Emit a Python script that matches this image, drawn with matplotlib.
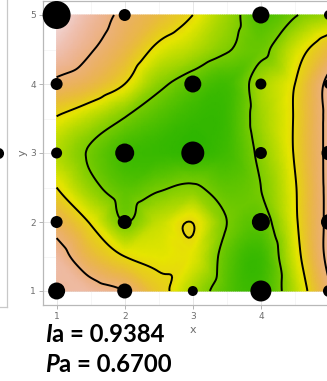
import numpy as np
import matplotlib
matplotlib.use('Agg')
import matplotlib.pyplot as plt
import matplotlib.tri as mtri
from matplotlib.colors import ListedColormap, Normalize, hsv_to_rgb
from matplotlib.lines import Line2D

# grid of the surface (rows from y=5 down to y=1)
grid_x = [1, 1.5, 2, 2.5, 3, 3.5, 4, 4.5, 5]
grid_y = [5, 4.5, 4, 3.5, 3, 2.5, 2, 1.5, 1]
surface = [
    [3.9, 3.35, 2.85, 2.45, 2.0, 1.3, 0.6, 0.95, 1.3],
    [3.5, 3.05, 2.55, 1.85, 1.5, 1.05, 0.85, 1.7, 2.45],
    [2.85, 2.55, 2.0, 1.15, 0.7, 0.45, 1.35, 2.0, 3.2],
    [1.95, 1.5, 0.98, 0.6, 0.35, 0.4, 1.3, 2.05, 3.2],
    [1.5, 0.92, 0.45, 0.35, 0.3, 0.45, 1.15, 2.05, 3.2],
    [2.0, 1.2, 0.7, 0.92, 1.08, 0.75, 1.0, 1.95, 3.2],
    [2.7, 1.95, 1.0, 1.6, 1.99, 1.0, 0.75, 1.9, 3.2],
    [3.3, 2.5, 2.0, 1.85, 1.82, 0.75, 0.4, 1.75, 3.2],
    [3.3, 3.3, 3.0, 2.2, 1.4, 0.65, 0.45, 1.5, 2.9],
]
contour_levels = [1, 2, 3]

# sampling points (size of each point, nan = no point)
pt_x = [1, 2, 3, 4, 5]
pt_y = [5, 4, 3, 2, 1]
pt_size = [
    [28, 12, np.nan, 17, 10],
    [12, np.nan, 17, 11, 10],
    [11, 19, 23, 12, 15],
    [12, 14, np.nan, 18, 16],
    [17, 15, 10, 21, 12],
]

ia_value = '0.9384'
pa_value = '0.6700'


def terrain_colors(n):
    # same recipe as R's terrain.colors()
    k = n // 2
    h1 = np.linspace(4 / 12, 2 / 12, k)
    s1 = np.ones(k)
    v1 = np.linspace(0.65, 0.9, k)
    h2 = np.linspace(2 / 12, 0, n - k + 1)[1:]
    s2 = np.linspace(1, 0, n - k + 1)[1:]
    v2 = np.linspace(0.9, 0.95, n - k + 1)[1:]
    hsv = np.column_stack([np.concatenate([h1, h2]), np.concatenate([s1, s2]), np.concatenate([v1, v2])])
    return ListedColormap(hsv_to_rgb(hsv))


fig = plt.figure(figsize=(3.27, 3.81), dpi=100)
W, H = 327, 381
ax = fig.add_axes([43 / W, 1 - 304.8 / H, 299.6 / W, 303.6 / H])

# surface
gx, gy = np.meshgrid(grid_x, grid_y)
z = np.array(surface)
tri = mtri.Triangulation(gx.ravel(), gy.ravel())
interp = mtri.CubicTriInterpolator(tri, z.ravel(), kind='geom')
refiner = mtri.UniformTriRefiner(tri)
tri_f, z_f = refiner.refine_field(z.ravel(), triinterpolator=interp, subdiv=4)

norm = Normalize(vmin=-0.304, vmax=4.04)
ax.tripcolor(tri_f, z_f, shading='gouraud', cmap=terrain_colors(256), norm=norm, zorder=1)
ax.tricontour(tri_f, z_f, levels=contour_levels, colors='black', linewidths=1.4, zorder=2)

# points
px, py = np.meshgrid(pt_x, pt_y)
sz = np.array(pt_size, dtype=float)
ok = ~np.isnan(sz)
ax.scatter(px[ok], py[ok], s=(sz[ok] * 0.72) ** 2, color='black', linewidths=0, zorder=3, clip_on=False)

ax.set_xlim(0.8, 5.2)
ax.set_ylim(0.8, 5.2)
ax.set_xticks([1, 2, 3, 4, 5])
ax.set_yticks([1, 2, 3, 4, 5])
ax.set_xticks([1.5, 2.5, 3.5, 4.5], minor=True)
ax.set_yticks([1.5, 2.5, 3.5, 4.5], minor=True)
ax.set_axisbelow(True)
ax.grid(True, which='major', color='#E3E3E3', linewidth=0.6)
ax.grid(True, which='minor', color='#EFEFEF', linewidth=0.4)
ax.tick_params(which='minor', length=0)
ax.tick_params(which='major', length=3, width=0.7, color='#B3B3B3', labelcolor='#6E6E6E',
               labelsize=6.5, pad=2)
for sp in ax.spines.values():
    sp.set_color('#B8B8B8')
    sp.set_linewidth(0.9)
ax.set_xlabel('x', fontsize=8, color='#6E6E6E', labelpad=3)
ax.set_ylabel('y', fontsize=8, color='#6E6E6E', labelpad=2)

# remains of the neighbouring panel at the left edge
fig.add_artist(Line2D([7 / W, 7 / W], [1, 1 - 307 / H], color='#C8C8C8', lw=0.9))
fig.add_artist(Line2D([0, 7 / W], [1 - 307 / H, 1 - 307 / H], color='#C8C8C8', lw=0.9))
fig.add_artist(Line2D([-2 / W], [1 - 153 / H], marker='o', markersize=7, color='black', lw=0))

# statistics text
fig.canvas.draw()
renderer = fig.canvas.get_renderer()
txt_font = dict(family='Lato', weight='bold', size=17.2, color='black', va='baseline')
for sym, val, base in [('I', ia_value, 342), ('P', pa_value, 372)]:
    t1 = fig.text(45 / W, 1 - base / H, sym, style='italic', **txt_font)
    bb = t1.get_window_extent(renderer)
    fig.text(bb.x1 / W + 0.5 / W, 1 - base / H, 'a = ' + val, **txt_font)

fig.savefig('out.png', dpi=100)
